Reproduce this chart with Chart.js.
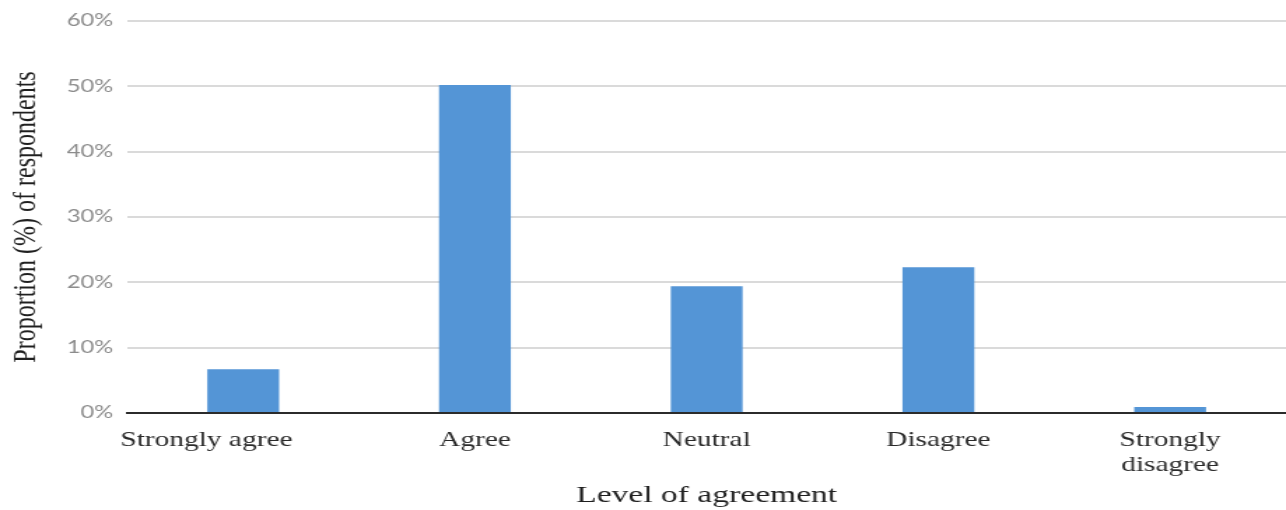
<!DOCTYPE html>
<html>
<head>
<meta charset="utf-8">
<script src="https://cdn.jsdelivr.net/npm/chart.js@4/dist/chart.umd.min.js"></script>
<style>
  html, body { margin: 0; padding: 0; background: #ffffff; overflow: hidden; }
  /* the drawing surface is laid out narrower and widened by CSS, giving the wide lettering */
  #chart { display: block; width: 1286px !important; height: 510px !important; }
</style>
</head>
<body>
<canvas id="chart" width="919" height="510" style="width:1286px;height:510px"></canvas>
<script>
// Survey responses by level of agreement
// (the first label carries trailing spaces so it sits left, clear of the axis start)
const categories = ['Strongly agree          ', 'Agree', 'Neutral', 'Disagree', ['Strongly', 'disagree']];
const proportions = [6.7, 50.2, 19.4, 22.3, 0.9];   // % of respondents
const yTicks = [0, 10, 20, 30, 40, 50, 60];           // % tick values

const serif = '"Liberation Serif", "Times New Roman", serif';

new Chart(document.getElementById('chart'), {
  type: 'bar',
  data: {
    labels: categories,
    datasets: [{
      data: proportions,
      backgroundColor: '#5495d6',
      borderWidth: 0,
      categoryPercentage: 1.0,
      barPercentage: 0.31
    }]
  },
  options: {
    responsive: false,
    animation: false,
    devicePixelRatio: 1,
    layout: { padding: { top: 21, right: 0, bottom: 0, left: 0 } },
    plugins: { legend: { display: false }, tooltip: { enabled: false } },
    scales: {
      x: {
        grid: { display: false },
        border: { display: true, color: '#2b2b2b', width: 2 },
        ticks: {
          color: '#2a2a2a',
          padding: 7,
          maxRotation: 0,
          autoSkip: false,
          font: { family: serif, size: 21, lineHeight: 1.2 }
        },
        title: {
          display: true,
          text: 'Level of agreement',
          color: '#1f1f1f',
          padding: { top: 4, bottom: 0 },
          font: { family: serif, size: 24, lineHeight: 1.2 }
        },
        afterFit: (scale) => { scale.height = 97; }
      },
      y: {
        min: yTicks[0],
        max: yTicks[yTicks.length - 1],
        afterBuildTicks: (scale) => { scale.ticks = yTicks.map(v => ({ value: v })); },
        grid: {
          drawTicks: false,
          lineWidth: 2,
          color: (ctx) => (ctx.tick && ctx.tick.value === 0) ? 'rgba(0,0,0,0)' : '#dadada'
        },
        border: { display: false },
        ticks: {
          color: '#8c8c8c',
          padding: 10,
          font: { family: 'Lato, "Liberation Sans", sans-serif', size: 17 },
          callback: (v) => v + '%'
        },
        title: {
          display: true,
          text: 'Proportion (%) of respondents',
          color: '#1f1f1f',
          padding: { top: 4, bottom: 0 },
          font: { family: serif, size: 24, lineHeight: 1.2 }
        },
        afterFit: (scale) => { scale.width = 91; }
      }
    }
  }
});
</script>
</body>
</html>
